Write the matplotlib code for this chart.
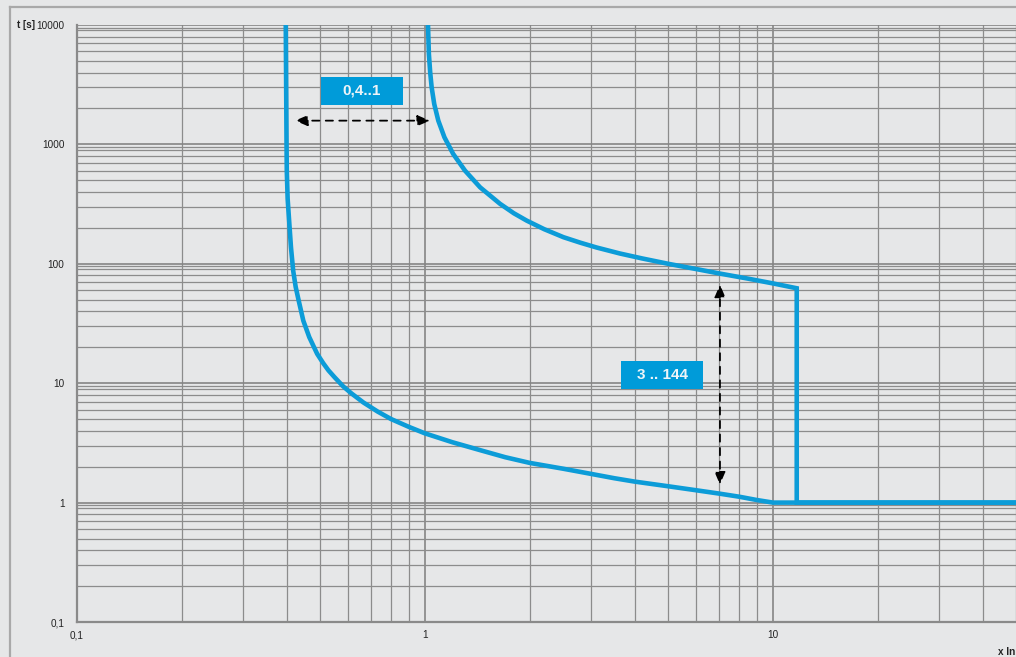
import matplotlib
matplotlib.use("Agg")
import matplotlib.pyplot as plt
from matplotlib.ticker import FixedLocator, NullFormatter, LogLocator
from matplotlib.lines import Line2D
from matplotlib.patches import Rectangle

# Tripping characteristic: time t [s] versus multiple of rated current (x In)
lower_x = [0.398, 0.400, 0.4007, 0.403, 0.407, 0.412, 0.418, 0.425, 0.433, 0.447,
           0.465, 0.490, 0.510, 0.528, 0.550, 0.582, 0.615, 0.665, 0.730, 0.800,
           0.900, 1.00, 1.20, 1.44, 1.70, 2.00, 2.50, 3.00, 3.50, 4.00,
           5.00, 6.00, 7.00, 8.00, 9.00, 10.0, 70.0]
lower_t = [10000, 1075, 603, 350, 229, 137, 87.7, 64, 50, 33.4,
           24.3, 17.6, 14.7, 12.8, 11.2, 9.4, 8.2, 6.9, 5.8, 5.0,
           4.3, 3.8, 3.2, 2.75, 2.4, 2.15, 1.92, 1.74, 1.60, 1.50,
           1.37, 1.27, 1.19, 1.12, 1.05, 1.0, 1.0]

upper_x = [1.02, 1.026, 1.035, 1.045, 1.063, 1.092, 1.137, 1.205, 1.303, 1.44,
           1.643, 1.80, 1.96, 2.20, 2.50, 2.80, 3.11, 3.63, 4.20, 5.00,
           6.00, 7.04, 8.50, 10.0, 11.7, 11.7, 70.0]
upper_t = [10000, 5720, 4000, 3007, 2178, 1581, 1148, 832, 603, 437,
           318, 265, 230, 195, 167, 150, 137, 122, 111, 100,
           90.5, 82.8, 75, 68.5, 62.4, 1.0, 1.0]

x_ticks = [0.1, 1, 10]
x_tick_labels = ["0,1", "1", "10"]
y_ticks = [0.1, 1, 10, 100, 1000, 10000]
y_tick_labels = ["0,1", "1", "10", "100", "1000", "10000"]

range_label = "0,4..1"
range_arrow_x = [0.423, 1.034]
range_arrow_t = 1581

delay_label = "3 .. 144"
delay_arrow_x = 7.04
delay_arrow_t = [67, 1.415]

BG = "#e6e7e8"
BLUE = "#0c9cd8"
BOX = "#009bd9"

plt.rcParams["font.family"] = ["Liberation Sans", "DejaVu Sans"]

W, H = 1016, 657
fig = plt.figure(figsize=(W / 100, H / 100), dpi=100, facecolor=BG)

left_px, right_px, top_px, bottom_px = 77, 1046, 25, 622
ax = fig.add_axes([left_px / W, (H - bottom_px) / H,
                   (right_px - left_px) / W, (bottom_px - top_px) / H])
ax.set_facecolor(BG)
ax.set_xscale("log")
ax.set_yscale("log")
ax.set_xlim(0.1, 10 ** (-1 + (right_px - left_px) / 348.0))
ax.set_ylim(0.1, 10000)

ax.xaxis.set_major_locator(FixedLocator(x_ticks))
ax.set_xticklabels(x_tick_labels)
ax.yaxis.set_major_locator(FixedLocator(y_ticks))
ax.set_yticklabels(y_tick_labels)
ax.xaxis.set_minor_locator(LogLocator(base=10, subs=[2, 3, 4, 5, 6, 7, 8, 9]))
ax.yaxis.set_minor_locator(LogLocator(base=10, subs=[2, 3, 4, 5, 6, 7, 8, 9, 9.5]))
ax.xaxis.set_minor_formatter(NullFormatter())
ax.yaxis.set_minor_formatter(NullFormatter())
ax.tick_params(which="both", length=0, labelsize=7.2, colors="#222222")
ax.tick_params(axis="x", pad=6)
ax.tick_params(axis="y", pad=9)

ax.grid(which="major", color="#858585", lw=1.2)
ax.grid(which="minor", color="#8c8c8c", lw=0.9)
ax.set_axisbelow(True)
for side in ("top", "right"):
    ax.spines[side].set_visible(False)
for side in ("left", "bottom"):
    ax.spines[side].set_color("#8a8a8a")
    ax.spines[side].set_linewidth(1.6)

# characteristic curves
ax.plot(lower_x, lower_t, color=BLUE, lw=3.3, solid_joinstyle="round",
        solid_capstyle="butt", zorder=3)
ax.plot(upper_x, upper_t, color=BLUE, lw=3.3, solid_joinstyle="miter",
        solid_capstyle="butt", zorder=3)

# setting-range arrows
arrow_style = dict(arrowstyle="<|-|>,head_length=0.75,head_width=0.32",
                   color="black", lw=1.3, linestyle=(0, (4, 3.5)),
                   shrinkA=0, shrinkB=0)
ax.annotate("", xy=(range_arrow_x[0], range_arrow_t),
            xytext=(range_arrow_x[1], range_arrow_t), arrowprops=arrow_style, zorder=4)
ax.annotate("", xy=(delay_arrow_x, delay_arrow_t[0]),
            xytext=(delay_arrow_x, delay_arrow_t[1]), arrowprops=arrow_style, zorder=4)

# labelled boxes (corners in data units of the log axes)
def label_box(x0, x1, t0, t1, text):
    ax.add_patch(Rectangle((x0, t0), x1 - x0, t1 - t0, facecolor=BOX,
                           edgecolor="none", zorder=5))
    xc = (x0 * x1) ** 0.5
    tc = (t0 * t1) ** 0.5
    ax.text(xc, tc, text, ha="center", va="center", fontsize=11,
            fontweight="bold", color="#eef4f8", zorder=6)

label_box(0.5026, 0.8645, 2155, 3698, range_label)
label_box(3.658, 6.294, 9.01, 15.46, delay_label)

# axis captions
fig.text(17 / W, 1 - 25 / H, "t [s]", fontsize=7.2, fontweight="bold",
         ha="left", va="center", color="#222222")
fig.text(998 / W, 1 - 652 / H, "x In", fontsize=7.2, fontweight="bold",
         ha="left", va="center", color="#222222")

# outer frame
fy = 1 - 7 / H
fx = 10 / W
fig.add_artist(Line2D([fx, 1.0], [fy, fy], transform=fig.transFigure,
                      color="#a9a9a9", lw=1.6))
fig.add_artist(Line2D([fx, fx], [fy, 0.0], transform=fig.transFigure,
                      color="#a9a9a9", lw=1.6))

fig.savefig("out.png", dpi=100, facecolor=BG)
